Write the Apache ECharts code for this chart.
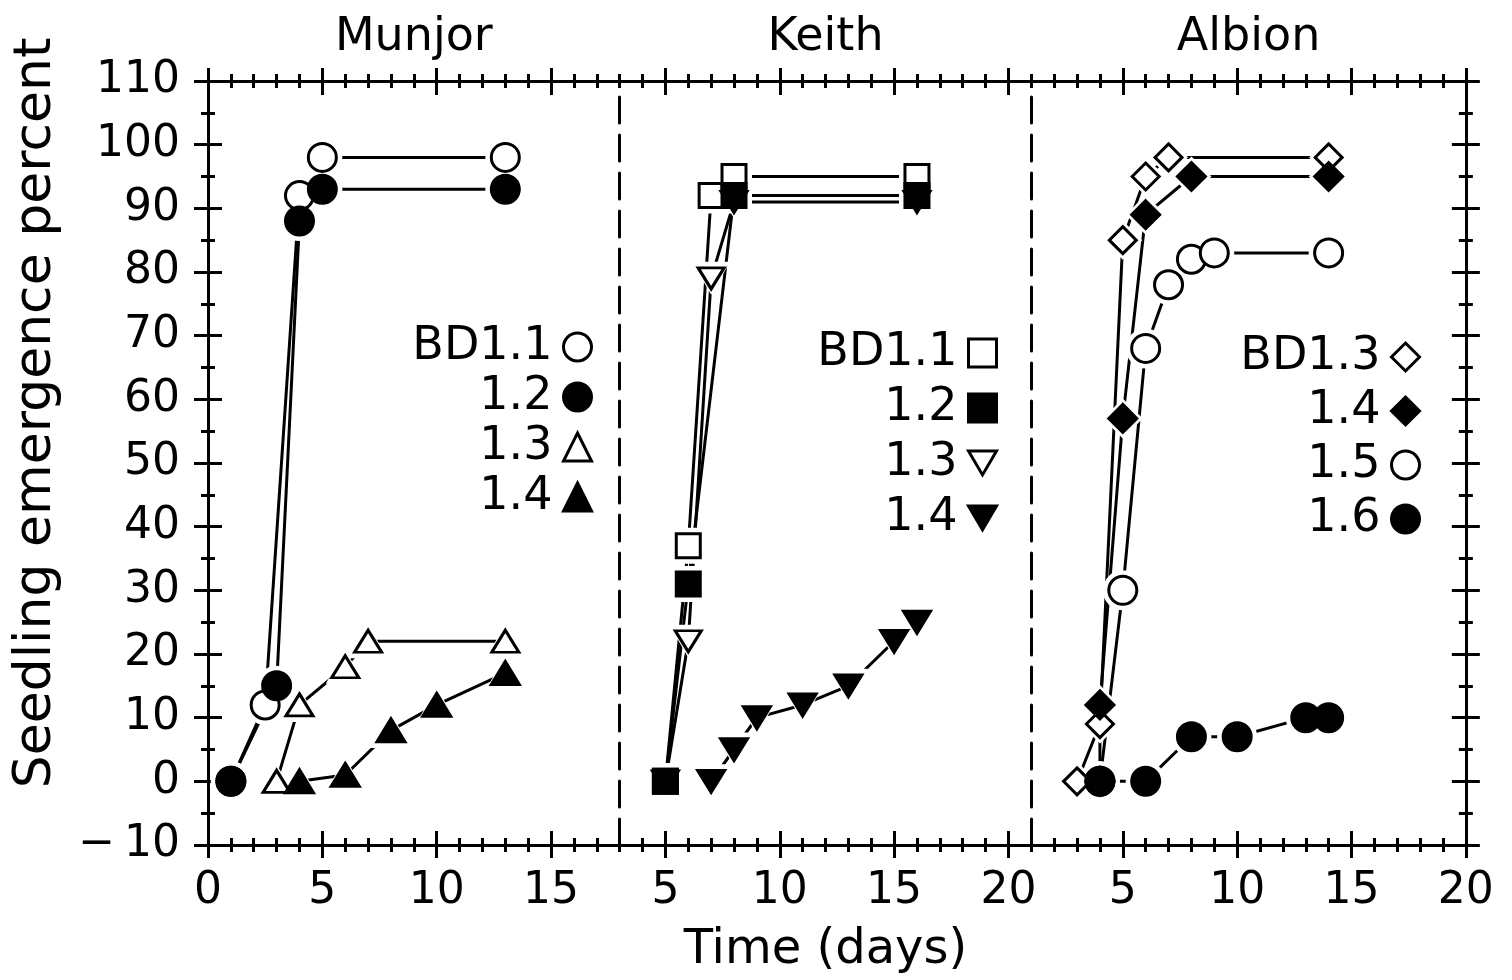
<!DOCTYPE html>
<html>
<head>
<meta charset="utf-8">
<title>Seedling emergence</title>
<script src="https://cdn.jsdelivr.net/npm/echarts@6/dist/echarts.min.js"></script>
<style>
  html, body { margin: 0; padding: 0; background: #fff; }
  #chart { width: 1512px; height: 980px; }
</style>
</head>
<body>
<div id="chart"></div>
<script>
// ---- data -------------------------------------------------------------
// Panel titles and the day range shown in each panel
const sites = ['Munjor', 'Keith', 'Albion'];
const dayMin = [0, 3, 1];
const dayMax = [18, 21, 20];
// Labelled day ticks in each panel
const majorDays = [[0, 5, 10, 15], [5, 10, 15, 20], [5, 10, 15, 20]];
// Emergence axis
const pctMin = -10, pctMax = 110;

// Munjor: [day, seedling emergence %]
const munjorBD11 = [[1, 0], [2.5, 12], [4, 92], [5, 98], [13, 98]];
const munjor12   = [[1, 0], [3, 15], [4, 88], [5, 93], [13, 93]];
const munjor13   = [[3, 0], [4, 12], [6, 18], [7, 22], [13, 22]];
const munjor14   = [[4, 0], [6, 1], [8, 8], [10, 12], [13, 17]];

// Keith
const keithBD11 = [[5, 0], [6, 37], [7, 92], [8, 95], [16, 95]];
const keith12   = [[5, 0], [6, 31], [8, 92], [16, 92]];
const keith13   = [[5, 0], [6, 22], [7, 79], [8, 91], [16, 91]];
const keith14   = [[7, 0], [8, 5], [9, 10], [11, 12], [13, 15], [15, 22], [16, 25]];

// Albion
const albionBD13 = [[3, 0], [4, 9], [5, 85], [6, 95], [7, 98], [14, 98]];
const albion14   = [[4, 0], [4, 12], [5, 57], [6, 89], [8, 95], [14, 95]];
const albion15   = [[4, 0], [5, 30], [6, 68], [7, 78], [8, 82], [9, 83], [14, 83]];
const albion16   = [[4, 0], [6, 0], [8, 7], [10, 7], [13, 10], [14, 10]];

// ---- styling ----------------------------------------------------------
const FONT = 'DejaVu Sans';
const BLACK = '#000';
const WHITE = '#fff';
const TRI_DOWN = 'path://M0,0L20,0L10,17Z';

// Each curve: panel, legend text, symbol and fill.  Order sets stacking.
const curves = [
  { key: 'm11', panel: 0, label: 'BD1.1', data: munjorBD11, symbol: 'circle',   size: 28,       fill: WHITE },
  { key: 'm12', panel: 0, label: '1.2',   data: munjor12,   symbol: 'circle',   size: 28,       fill: BLACK },
  { key: 'm13', panel: 0, label: '1.3',   data: munjor13,   symbol: 'triangle', size: [27, 22], fill: WHITE },
  { key: 'm14', panel: 0, label: '1.4',   data: munjor14,   symbol: 'triangle', size: [28, 23], fill: BLACK },

  { key: 'k11', panel: 1, label: 'BD1.1', data: keithBD11,  symbol: 'rect',     size: 24,       fill: WHITE },
  { key: 'k13', panel: 1, label: '1.3',   data: keith13,    symbol: TRI_DOWN,   size: [26, 21], fill: WHITE },
  { key: 'k12', panel: 1, label: '1.2',   data: keith12,    symbol: 'rect',     size: 24,       fill: BLACK },
  { key: 'k14', panel: 1, label: '1.4',   data: keith14,    symbol: TRI_DOWN,   size: [27, 22], fill: BLACK },

  { key: 'a13', panel: 2, label: 'BD1.3', data: albionBD13, symbol: 'diamond',  size: 27,       fill: WHITE },
  { key: 'a14', panel: 2, label: '1.4',   data: albion14,   symbol: 'diamond',  size: 28,       fill: BLACK },
  { key: 'a15', panel: 2, label: '1.5',   data: albion15,   symbol: 'circle',   size: 28,       fill: WHITE },
  { key: 'a16', panel: 2, label: '1.6',   data: albion16,   symbol: 'circle',   size: 28,       fill: BLACK }
];
// Legend row order in each panel
const legendOrder = [
  ['m11', 'm12', 'm13', 'm14'],
  ['k11', 'k12', 'k13', 'k14'],
  ['a13', 'a14', 'a15', 'a16']
];
const labelOf = {};
curves.forEach(c => { labelOf[c.key] = c.label; });

// ---- layout -----------------------------------------------------------
const GRID_LEFT = 208, GRID_TOP = 81, GRID_H = 764, PX_PER_DAY = 22.87;
const grids = [];
let gx = GRID_LEFT;
for (let p = 0; p < 3; p++) {
  const w = (dayMax[p] - dayMin[p]) * PX_PER_DAY;
  grids.push({ left: gx, top: GRID_TOP, width: w, height: GRID_H });
  gx += w;
}

const axisLineStyle = { color: BLACK, width: 3 };
const tickLineStyle = { color: BLACK, width: 3 };

// ---- axes -------------------------------------------------------------
const xAxes = [], yAxes = [];
const mainX = [], mainY = [];

function baseX(p, pos) {
  return {
    type: 'value', gridIndex: p, position: pos,
    min: dayMin[p], max: dayMax[p],
    splitLine: { show: false },
    axisLine: { show: false, onZero: false },
    axisTick: { show: false },
    axisLabel: { show: false }
  };
}
function baseY(p, pos) {
  return {
    type: 'value', gridIndex: p, position: pos,
    min: pctMin, max: pctMax, interval: 10,
    splitLine: { show: false },
    axisLine: { show: false, onZero: false },
    axisTick: { show: false },
    axisLabel: { show: false }
  };
}

for (let p = 0; p < 3; p++) {
  // bottom axis line with day labels
  const bx = baseX(p, 'bottom');
  bx.axisLine = { show: true, onZero: false, lineStyle: axisLineStyle };
  bx.axisLabel = {
    show: true, customValues: majorDays[p], margin: 25,
    fontSize: 44, fontFamily: FONT, color: BLACK
  };
  if (p === 1) {
    bx.name = 'Time (days)';
    bx.nameLocation = 'middle';
    bx.nameGap = 82;
    bx.nameTextStyle = { fontSize: 48, fontFamily: FONT, color: BLACK };
  }
  xAxes.push(bx);
  mainX[p] = xAxes.length - 1;

  // top axis line carrying the site name
  const tx = baseX(p, 'top');
  tx.axisLine = { show: true, onZero: false, lineStyle: axisLineStyle };
  tx.name = sites[p];
  tx.nameLocation = 'middle';
  tx.nameGap = 20;
  tx.nameTextStyle = { fontSize: 46, fontFamily: FONT, color: BLACK };
  xAxes.push(tx);

  // ticks that cross the axis line: major every 5 days, minor every day
  ['bottom', 'top'].forEach(pos => {
    const major = baseX(p, pos);
    major.offset = 13;
    major.axisTick = { show: true, inside: true, length: 27, customValues: majorDays[p], lineStyle: tickLineStyle };
    xAxes.push(major);
    const minor = baseX(p, pos);
    minor.offset = 7;
    minor.interval = 1;
    minor.axisTick = { show: true, inside: true, length: 14, lineStyle: tickLineStyle };
    xAxes.push(minor);
  });
}

// Left emergence axis (panel 1)
const ly = baseY(0, 'left');
ly.axisLine = { show: true, onZero: false, lineStyle: axisLineStyle };
ly.axisLabel = {
  show: true, margin: 28, fontSize: 44, fontFamily: FONT, color: BLACK,
  formatter: v => (v < 0 ? '\u2212\u2009' + Math.abs(v) : String(v))
};
ly.name = 'Seedling emergence percent';
ly.nameLocation = 'middle';
ly.nameGap = 146;
ly.nameTextStyle = { fontSize: 52, fontFamily: FONT, color: BLACK, padding: [0, 0, 0, 100] };
yAxes.push(ly);
mainY[0] = 0;

function crossTicksY(p, pos) {
  const major = baseY(p, pos);
  major.offset = 14;
  major.axisTick = { show: true, inside: true, length: 28, lineStyle: tickLineStyle };
  yAxes.push(major);
  const minor = baseY(p, pos);
  minor.offset = 7;
  minor.interval = 5;
  minor.axisTick = { show: true, inside: true, length: 14, lineStyle: tickLineStyle };
  yAxes.push(minor);
}
crossTicksY(0, 'left');

// Dashed dividers between the three sites
for (let p = 0; p < 2; p++) {
  const d = baseY(p, 'right');
  d.axisLine = { show: true, onZero: false, lineStyle: { color: BLACK, width: 3, type: [26, 12] } };
  yAxes.push(d);
}
// Value axes of panels 2 and 3 (not drawn)
for (let p = 1; p < 3; p++) {
  const h = baseY(p, 'left');
  h.show = false;
  yAxes.push(h);
  mainY[p] = yAxes.length - 1;
}
// Right frame of the last panel
const ry = baseY(2, 'right');
ry.axisLine = { show: true, onZero: false, lineStyle: axisLineStyle };
yAxes.push(ry);
crossTicksY(2, 'right');

// ---- series -----------------------------------------------------------
const GAP = 12;   // white margin round each marker
const series = [];
// connecting lines
curves.forEach(c => {
  series.push({
    type: 'line', name: c.key + '-line', silent: true,
    xAxisIndex: mainX[c.panel], yAxisIndex: mainY[c.panel],
    data: c.data, symbol: 'none', z: 2,
    lineStyle: { color: BLACK, width: 3 }
  });
});
// white surround so the lines stop short of each marker
curves.forEach(c => {
  const s = Array.isArray(c.size) ? [c.size[0] + GAP, c.size[1] + GAP] : c.size + GAP;
  series.push({
    type: 'scatter', name: c.key + '-gap', silent: true,
    xAxisIndex: mainX[c.panel], yAxisIndex: mainY[c.panel],
    data: c.data, symbol: c.symbol, symbolSize: s, z: 3,
    itemStyle: { color: WHITE, opacity: 1, borderWidth: 0 }
  });
});
// markers
curves.forEach(c => {
  series.push({
    type: 'scatter', name: c.key, silent: true,
    xAxisIndex: mainX[c.panel], yAxisIndex: mainY[c.panel],
    data: c.data, symbol: c.symbol, symbolSize: c.size, z: 4,
    itemStyle: { color: c.fill, opacity: 1, borderColor: BLACK, borderWidth: 3 }
  });
});

// ---- legends (one per site) -------------------------------------------
const legendRight = [919, 514, 91];
const legendTop = [324, 330, 334];
const legendGap = [4, 9, 8];
const legends = [0, 1, 2].map(p => ({
  data: legendOrder[p],
  orient: 'vertical', align: 'right',
  right: legendRight[p], top: legendTop[p],
  itemGap: legendGap[p], itemWidth: 28, itemHeight: 28,
  padding: 0, selectedMode: false,
  formatter: name => labelOf[name],
  textStyle: { fontSize: 46, fontFamily: FONT, color: BLACK, lineHeight: 46, padding: [0, 6, 0, 0] },
  itemStyle: { borderWidth: 3, borderColor: BLACK }
}));

const chart = echarts.init(document.getElementById('chart'), null, { renderer: 'canvas' });
chart.setOption({
  backgroundColor: WHITE,
  animation: false,
  textStyle: { fontFamily: FONT, color: BLACK },
  grid: grids,
  xAxis: xAxes,
  yAxis: yAxes,
  legend: legends,
  series: series
});
</script>
</body>
</html>
